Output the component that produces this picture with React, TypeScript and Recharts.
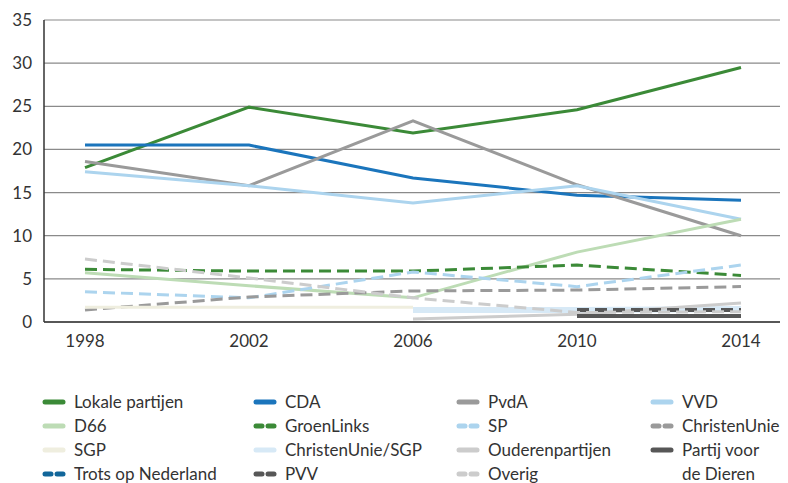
import React from 'react';
import { LineChart, Line, XAxis, YAxis, CartesianGrid } from 'recharts';

// Election years
const years = ['1998', '2002', '2006', '2010', '2014'];

// Share per party (%); null = not present that year
const lokalePartijen = [17.9, 24.9, 21.9, 24.6, 29.5];
const cda = [20.5, 20.5, 16.7, 14.7, 14.1];
const pvda = [18.6, 15.8, 23.3, 15.9, 10.0];
const vvd = [17.4, 15.8, 13.8, 15.8, 11.9];
const d66 = [5.7, 4.2, 2.8, 8.1, 11.9];
const groenLinks = [6.1, 5.9, 5.9, 6.6, 5.4];
const sp = [3.5, 2.8, 5.8, 4.1, 6.6];
const christenUnie = [1.4, 2.9, 3.6, 3.7, 4.1];
const sgp = [1.7, 1.7, 1.7, null, null];
const christenUnieSgp = [null, null, 1.4, 1.4, 1.5];
const ouderenpartijen = [null, null, 0.35, 0.9, 2.2];
const partijVoorDeDieren = [null, null, null, 0.7, 0.7];
const trotsOpNederland = [null, null, null, 0.6, null];
const pvv = [null, null, null, 1.4, 1.4];
const overig = [7.3, 5.1, 2.8, 1.1, 1.2];

const yTicks = [0, 5, 10, 15, 20, 25, 30, 35];

const FONT = 'Lato, "Open Sans", sans-serif';

type Series = {
  key: string;
  name: string[];
  values: (number | null)[];
  color: string;
  width: number;
  dashed: boolean;
};

// Legend order (row by row, four columns)
const series: Series[] = [
  { key: 'lok', name: ['Lokale partijen'], values: lokalePartijen, color: '#3b8a37', width: 3, dashed: false },
  { key: 'cda', name: ['CDA'], values: cda, color: '#1b75bc', width: 3, dashed: false },
  { key: 'pvda', name: ['PvdA'], values: pvda, color: '#9a9a9a', width: 3, dashed: false },
  { key: 'vvd', name: ['VVD'], values: vvd, color: '#acd4ee', width: 3, dashed: false },
  { key: 'd66', name: ['D66'], values: d66, color: '#bddcb5', width: 3, dashed: false },
  { key: 'gl', name: ['GroenLinks'], values: groenLinks, color: '#3b8a37', width: 3, dashed: true },
  { key: 'sp', name: ['SP'], values: sp, color: '#acd4ee', width: 3, dashed: true },
  { key: 'cu', name: ['ChristenUnie'], values: christenUnie, color: '#9a9a9a', width: 3, dashed: true },
  { key: 'sgp', name: ['SGP'], values: sgp, color: '#efeedf', width: 3, dashed: false },
  { key: 'cusgp', name: ['ChristenUnie/SGP'], values: christenUnieSgp, color: '#d7e9f6', width: 6, dashed: false },
  { key: 'oud', name: ['Ouderenpartijen'], values: ouderenpartijen, color: '#cccccc', width: 3, dashed: false },
  { key: 'pvdd', name: ['Partij voor', 'de Dieren'], values: partijVoorDeDieren, color: '#575757', width: 4, dashed: false },
  { key: 'ton', name: ['Trots op Nederland'], values: trotsOpNederland, color: '#11669a', width: 3, dashed: true },
  { key: 'pvv', name: ['PVV'], values: pvv, color: '#575757', width: 4, dashed: true },
  { key: 'ov', name: ['Overig'], values: overig, color: '#cccccc', width: 3, dashed: true },
];

const data = years.map((year, i) => {
  const row: Record<string, string | number | null> = { year };
  series.forEach(s => {
    row[s.key] = s.values[i];
  });
  return row;
});

const legendCols = [42, 253, 456, 650];
const legendRowY = [402, 426, 450, 474];

const LegendIcon = ({ color, dashed }: { color: string; dashed: boolean }) => (
  <svg width={24} height={8} style={{ position: 'absolute', left: 0, top: -4 }}>
    {dashed ? (
      <>
        <line x1={3} y1={4} x2={9} y2={4} stroke={color} strokeWidth={5} strokeLinecap="round" />
        <line x1={15} y1={4} x2={21} y2={4} stroke={color} strokeWidth={5} strokeLinecap="round" />
      </>
    ) : (
      <line x1={3} y1={4} x2={21} y2={4} stroke={color} strokeWidth={5} strokeLinecap="round" />
    )}
  </svg>
);

const App = () => {
  return (
    <div style={{ position: 'absolute', left: 0, top: 0, width: 788, height: 483, background: '#fff', fontFamily: FONT }}>
      <LineChart width={788} height={360} data={data} margin={{ top: 20, right: 8, left: 0, bottom: 0 }}>
        <CartesianGrid vertical={false} stroke="#8a8a8a" strokeWidth={1.2} />
        <XAxis
          dataKey="year"
          height={38}
          padding={{ left: 41, right: 39 }}
          axisLine={{ stroke: '#333', strokeWidth: 1.5 }}
          tickLine={false}
          tickMargin={7}
          tick={{ fill: '#333', fontSize: 17, fontFamily: FONT }}
        />
        <YAxis
          width={44}
          domain={[0, 35]}
          ticks={yTicks}
          interval={0}
          axisLine={{ stroke: '#333', strokeWidth: 1.5 }}
          tickLine={false}
          tickMargin={6}
          tick={{ fill: '#333', fontSize: 17, fontFamily: FONT }}
        />
        {series.map(s => (
          <Line
            key={s.key}
            dataKey={s.key}
            type="linear"
            stroke={s.color}
            strokeWidth={s.width}
            strokeDasharray={s.dashed ? '12 6' : undefined}
            dot={false}
            activeDot={false}
            isAnimationActive={false}
          />
        ))}
      </LineChart>

      {/* Legend */}
      {series.map((s, i) => {
        const col = i % 4;
        const row = Math.floor(i / 4);
        return (
          <div
            key={s.key}
            style={{ position: 'absolute', left: legendCols[col], top: legendRowY[row], height: 0 }}
          >
            <LegendIcon color={s.color} dashed={s.dashed} />
            {s.name.map((line, j) => (
              <div
                key={j}
                style={{
                  position: 'absolute',
                  left: 32,
                  top: -11 + j * 24,
                  whiteSpace: 'nowrap',
                  fontSize: 17,
                  lineHeight: '22px',
                  color: '#333',
                }}
              >
                {line}
              </div>
            ))}
          </div>
        );
      })}
    </div>
  );
};

export default App;
